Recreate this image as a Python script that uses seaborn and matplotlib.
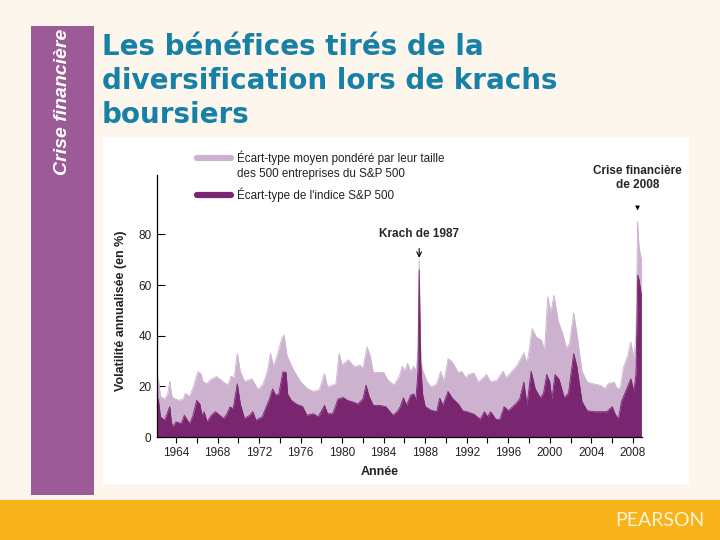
import matplotlib
matplotlib.use("Agg")
import matplotlib.pyplot as plt
import seaborn as sns
from matplotlib.patches import Rectangle
from matplotlib.lines import Line2D

# ---------------- data ----------------
years_avg = [1962.17, 1962.3, 1962.5, 1962.9, 1963.2, 1963.4, 1963.6, 1963.9, 1964.3, 1964.7,
             1964.9, 1965.3, 1965.7, 1966.1, 1966.4, 1966.6, 1967.0, 1967.3, 1967.9, 1968.5,
             1969.0, 1969.3, 1969.6, 1969.9, 1970.2, 1970.6, 1971.3, 1971.9, 1972.4, 1972.8,
             1973.1, 1973.4, 1973.8, 1974.2, 1974.4, 1974.7, 1975.3, 1976.0, 1976.6, 1977.2,
             1977.8, 1978.3, 1978.6, 1979.4, 1979.7, 1980.0, 1980.6, 1981.1, 1981.4, 1981.7,
             1982.0, 1982.4, 1982.7, 1983.0, 1983.6, 1984.0, 1984.4, 1985.0, 1985.5, 1985.8,
             1986.0, 1986.3, 1986.6, 1986.9, 1987.15, 1987.3, 1987.42, 1987.55, 1987.7, 1988.2,
             1988.6, 1989.1, 1989.5, 1989.8, 1990.2, 1990.6, 1991.2, 1991.5, 1991.9, 1992.2,
             1992.7, 1993.1, 1993.6, 1993.9, 1994.3, 1994.9, 1995.5, 1995.8, 1996.5, 1996.9,
             1997.5, 1997.8, 1998.0, 1998.3, 1998.7, 1999.2, 1999.5, 1999.8, 2000.1, 2000.4,
             2000.8, 2001.3, 2001.6, 2001.9, 2002.3, 2002.6, 2003.1, 2003.6, 2004.2, 2004.9,
             2005.3, 2005.6, 2006.2, 2006.5, 2006.8, 2007.1, 2007.5, 2007.8, 2008.1, 2008.3,
             2008.45, 2008.6, 2008.82]
vol_avg = [22, 23, 16, 15, 17, 22, 16, 15, 14.5, 15,
           17.3, 16, 20, 25.8, 25, 21.9, 21, 22.5, 23.9, 21.9,
           20.6, 24, 23.5, 33, 25.8, 21.9, 23, 18.8, 21, 26,
           33, 28, 33, 39, 40.3, 32, 26.6, 21.9, 19.3, 18,
           18.6, 25, 19.8, 21, 33, 28.5, 30.5, 28, 27.9, 28.5,
           27, 35.6, 32, 25.5, 25.5, 25.5, 22.5, 20.5, 24, 28,
           26, 29, 26, 28, 26, 35, 70, 36, 27, 21.7,
           19.7, 21, 26, 21.7, 31, 29.7, 25.3, 26, 23.4, 24.7,
           25.3, 21.7, 23.4, 24.7, 21.7, 22.4, 26, 23.4, 26.6, 28.6,
           33.2, 29.3, 34, 42.8, 39.5, 38.2, 34.2, 55.4, 49, 56,
           46, 40, 35, 37, 49, 41, 26, 21.7, 21, 20.4,
           19, 21, 21.7, 19, 19.7, 27.6, 32, 37.6, 31, 40,
           85, 75, 70]

years_idx = [1962.17, 1962.3, 1962.5, 1962.9, 1963.4, 1963.55, 1963.7, 1964.0, 1964.5, 1964.8,
             1965.3, 1965.6, 1966.0, 1966.3, 1966.5, 1966.7, 1967.0, 1967.4, 1967.8, 1968.2,
             1968.6, 1968.9, 1969.2, 1969.5, 1969.9, 1970.2, 1970.6, 1971.1, 1971.4, 1971.7,
             1972.3, 1972.7, 1973.0, 1973.3, 1973.6, 1973.9, 1974.3, 1974.6, 1974.75, 1975.1,
             1975.6, 1976.2, 1976.6, 1977.2, 1977.7, 1978.3, 1978.6, 1979.1, 1979.6, 1980.1,
             1980.5, 1981.0, 1981.5, 1982.0, 1982.3, 1982.6, 1983.0, 1983.6, 1984.2, 1984.9,
             1985.3, 1985.6, 1985.9, 1986.2, 1986.6, 1986.9, 1987.1, 1987.3, 1987.42, 1987.55,
             1987.75, 1988.0, 1988.5, 1989.1, 1989.4, 1989.7, 1990.2, 1990.6, 1991.2, 1991.6,
             1992.0, 1992.7, 1993.3, 1993.7, 1994.0, 1994.3, 1994.8, 1995.2, 1995.6, 1996.0,
             1996.7, 1997.1, 1997.5, 1997.8, 1998.2, 1998.6, 1999.1, 1999.4, 1999.7, 2000.0,
             2000.2, 2000.5, 2000.9, 2001.4, 2001.8, 2002.3, 2002.6, 2003.1, 2003.6, 2004.2,
             2004.9, 2005.5, 2006.0, 2006.3, 2006.6, 2006.9, 2007.4, 2007.8, 2008.1, 2008.3,
             2008.47, 2008.6, 2008.82]
vol_idx = [13.3, 15, 8, 6.6, 12, 6, 4, 6, 5.3, 8.6,
           5.3, 8, 14.5, 13, 8.6, 10, 6, 8.6, 10, 8.6,
           7.3, 9.2, 11.9, 11.2, 21, 13, 7.3, 8.6, 10, 6.6,
           8, 12, 15, 19, 16.5, 17, 25.8, 25.5, 17, 14.5,
           13, 12, 8.6, 9.2, 8, 12.5, 9.2, 9.2, 15, 15.6,
           14.5, 13.9, 13, 15, 20.5, 16, 12.5, 12.5, 12, 8.6,
           10, 12, 15.5, 12.5, 16.5, 17, 14.5, 26, 66, 30,
           17, 12, 10.7, 10, 15.4, 12.5, 18, 15.4, 13, 10.4,
           10, 9, 7, 10, 8, 10, 7, 7, 12, 10.4,
           13, 15, 21.7, 12.5, 26, 19, 15.4, 17.4, 24.7, 21.7,
           14.8, 24.7, 22.7, 15.4, 17.4, 33, 28, 14, 10.4, 10,
           10, 10, 12, 9, 7, 14, 19, 23, 18, 25,
           64, 62, 56]

xtick_years = list(range(1964, 2009, 4))
xminor_years = list(range(1962, 2009, 2))
ytick_vals = [0, 20, 40, 60, 80]

title_lines = ["Les bénéfices tirés de la",
               "diversification lors de krachs",
               "boursiers"]
legend_labels = ["Écart-type moyen pondéré par leur taille",
                 "des 500 entreprises du S&P 500",
                 "Écart-type de l'indice S&P 500"]

# ---------------- style ----------------
LIGHT = "#CCB2CE"
DARK = "#7A2570"
CREAM = "#FCF6EC"
BAND = "#9C5B97"
TEAL = "#1780A7"
ORANGE = "#F8B31B"

sns.set_theme(style="white")
plt.rcParams["font.family"] = ["Liberation Sans", "DejaVu Sans"]

W, H = 720, 540
fig = plt.figure(figsize=(7.2, 5.4), dpi=100, facecolor=CREAM)


def fx(px):
    return px / W


def fy(py):
    return 1 - py / H


def rect(x0, y0, x1, y1, color, z=0):
    fig.add_artist(Rectangle((fx(x0), fy(y1)), fx(x1) - fx(x0), fy(y0) - fy(y1),
                             transform=fig.transFigure, facecolor=color,
                             edgecolor="none", zorder=z))


# slide decoration
rect(31, 26, 94, 495, BAND)
rect(0, 500, 720, 540, ORANGE)
rect(103, 137, 689, 484, "white")

fig.text(fx(63), fy(29), "Crise financière", rotation=90, ha="center", va="top",
         color="white", fontsize=14, fontweight="bold", fontstyle="italic",
         family=["Liberation Sans Narrow", "Liberation Sans", "DejaVu Sans"])
fig.text(fx(660), fy(520), "PEARSON", ha="center", va="center", color="#FFF4D6",
         fontsize=14, family=["Lato", "DejaVu Sans"])
for i, line in enumerate(title_lines):
    fig.text(fx(102), fy(47 + 34 * i), line, ha="left", va="center", color=TEAL,
             fontsize=20, fontweight="bold", family=["DejaVu Sans"])

# ---------------- chart ----------------
ax = fig.add_axes([fx(157), fy(437), fx(642) - fx(157), fy(175) - fy(437)])
ax.patch.set_alpha(0)

ax.fill_between(years_avg, vol_avg, 0, color=LIGHT, lw=0, zorder=1)
sns.lineplot(x=years_avg, y=vol_avg, color=LIGHT, lw=0.6, ax=ax, estimator=None,
             sort=False, zorder=1.5)
ax.fill_between(years_idx, vol_idx, 0, color=DARK, lw=0, zorder=2)
sns.lineplot(x=years_idx, y=vol_idx, color=DARK, lw=0.6, ax=ax, estimator=None,
             sort=False, zorder=2.5)

ax.set_xlim(1962.17, 2008.88)
ax.set_ylim(0, 103.5)
ax.set_xticks(xtick_years)
ax.set_xticks(xminor_years[1:], minor=True)
ax.set_yticks(ytick_vals)

sns.despine(ax=ax)
for s in ("left", "bottom"):
    ax.spines[s].set_color("black")
    ax.spines[s].set_linewidth(0.9)

ax.tick_params(axis="x", which="both", direction="out", length=4, width=0.8,
               color="black", bottom=True, labelsize=8.5, labelcolor="#222222", pad=3)
ax.tick_params(axis="y", direction="in", length=6, width=0.8, color="black",
               left=True, labelsize=8.5, labelcolor="#222222", pad=4)

ax.set_ylabel("Volatilité annualisée (en %)", fontsize=9, fontweight="bold", color="#222222")
ax.yaxis.set_label_coords((127 - 157) / 485, (437 - 311) / 262)
ax.set_xlabel("Année", fontsize=9, fontweight="bold", color="#222222")
ax.xaxis.set_label_coords((380 - 157) / 485, (437 - 466) / 262)

# annotations
ax.annotate("Krach de 1987", xy=(1987.42, 70.8), xytext=(1987.42, 80.3),
            ha="center", va="center", fontsize=8.5, fontweight="bold",
            arrowprops=dict(arrowstyle="->", color="black", lw=0.8, shrinkA=4, shrinkB=0))
ax.annotate("Crise financière\nde 2008", xy=(2008.45, 89.5), xytext=(2008.45, 102.3),
            ha="center", va="center", fontsize=8.5, fontweight="bold",
            annotation_clip=False, linespacing=1.3,
            arrowprops=dict(arrowstyle="-|>,head_length=0.3,head_width=0.15",
                            color="black", lw=0.6, shrinkA=10, shrinkB=0))

# legend (drawn manually in figure space)
fig.add_artist(Line2D([fx(197), fx(231)], [fy(158), fy(158)], color=LIGHT, lw=4.5,
                      transform=fig.transFigure))
fig.add_artist(Line2D([fx(197), fx(231)], [fy(195), fy(195)], color=DARK, lw=4.5,
                      transform=fig.transFigure))
fig.text(fx(237), fy(158), legend_labels[0], ha="left", va="center", fontsize=8.4, color="#222222")
fig.text(fx(237), fy(174), legend_labels[1], ha="left", va="center", fontsize=8.4, color="#222222")
fig.text(fx(237), fy(195), legend_labels[2], ha="left", va="center", fontsize=8.4, color="#222222")

fig.savefig("out.png", dpi=100, facecolor=CREAM)
